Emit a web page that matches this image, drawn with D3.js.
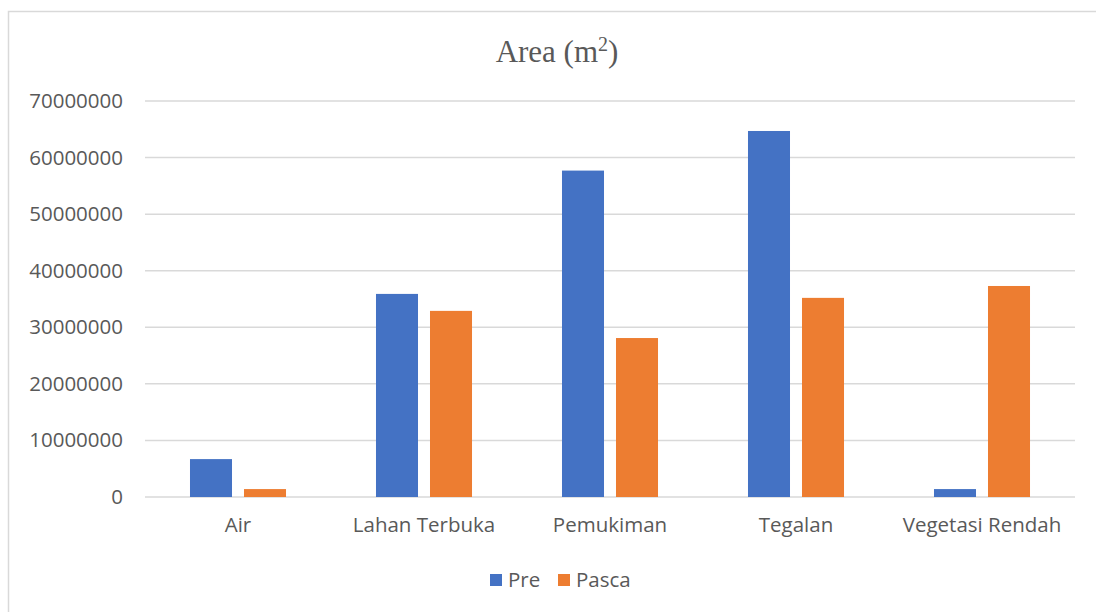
<!DOCTYPE html>
<html><head><meta charset="utf-8">
<script src="https://cdn.jsdelivr.net/npm/d3@7"></script>
<style>body{margin:0;background:#fff}svg{display:block}</style>
</head><body>
<script>
const categories = ["Air","Lahan Terbuka","Pemukiman","Tegalan","Vegetasi Rendah"];
const seriesNames = ["Pre","Pasca"];
const preValues = [6700000, 35900000, 57700000, 64700000, 1400000];
const pascaValues = [1400000, 32900000, 28100000, 35200000, 37300000];
const yTicks = [0,10000000,20000000,30000000,40000000,50000000,60000000,70000000];
const colors = ["#4472C4","#ED7D31"];

const W=1096,H=612;
const svg=d3.select("body").append("svg").attr("width",W).attr("height",H);
svg.append("rect").attr("x",8.5).attr("y",11.5).attr("width",W+10).attr("height",H+10)
  .attr("fill","#fff").attr("stroke","#d9d9d9").attr("stroke-width",1.5);

const pLeft=145,pRight=1075,pTop=101,pBottom=497;
const FS=20.5;
const x=d3.scaleBand().domain(categories).range([pLeft,pRight]);
const xs=d3.scaleBand().domain(seriesNames).range([0,x.bandwidth()]).paddingInner(0.222).paddingOuter(0.833);
const y=d3.scaleLinear().domain([0,70000000]).range([pBottom,pTop]);

const grid=svg.append("g");
grid.selectAll("line").data(yTicks).join("line")
 .attr("x1",pLeft).attr("x2",pRight).attr("y1",d=>y(d)).attr("y2",d=>y(d))
 .attr("stroke","#d9d9d9").attr("stroke-width",1.5);

const yAxis=svg.append("g").attr("transform",`translate(${pLeft},0)`)
 .call(d3.axisLeft(y).tickValues(yTicks).tickFormat(d=>String(d)).tickSize(0).tickPadding(22));
yAxis.select(".domain").remove();
yAxis.selectAll("text").attr("font-family","'Open Sans',sans-serif").attr("font-size",FS).attr("fill","#595959");

const data=categories.map((c,i)=>({c,vals:[preValues[i],pascaValues[i]]}));
const g=svg.append("g");
g.selectAll("g").data(data).join("g").attr("transform",d=>`translate(${x(d.c)},0)`)
 .selectAll("rect").data(d=>d.vals.map((v,j)=>({v,s:seriesNames[j],j}))).join("rect")
 .attr("x",d=>xs(d.s)).attr("width",xs.bandwidth())
 .attr("y",d=>y(d.v)).attr("height",d=>pBottom-y(d.v)).attr("fill",d=>colors[d.j]);

const xAxis=svg.append("g").attr("transform",`translate(0,${pBottom})`)
 .call(d3.axisBottom(x).tickSize(0).tickPadding(20));
xAxis.select(".domain").remove();
xAxis.selectAll("text").attr("font-family","'Open Sans',sans-serif").attr("font-size",FS).attr("fill","#595959");

svg.append("text").attr("x",557).attr("y",62).attr("text-anchor","middle")
 .attr("font-family","'Liberation Serif','Times New Roman',serif").attr("font-size",31).attr("fill","#595959")
 .html('Area (m<tspan dy="-11" font-size="20">2</tspan><tspan dy="11">)</tspan>');

const leg=svg.append("g").attr("transform","translate(490,580)");
const items=[{n:"Pre",x:0},{n:"Pasca",x:68}];
items.forEach((it,i)=>{
  leg.append("rect").attr("x",it.x).attr("y",-6).attr("width",12).attr("height",12).attr("fill",colors[i]);
  leg.append("text").attr("x",it.x+18).attr("y",0).attr("dy","0.35em")
   .attr("font-family","'Open Sans',sans-serif").attr("font-size",FS).attr("fill","#595959").text(it.n);
});
</script>
</body></html>
